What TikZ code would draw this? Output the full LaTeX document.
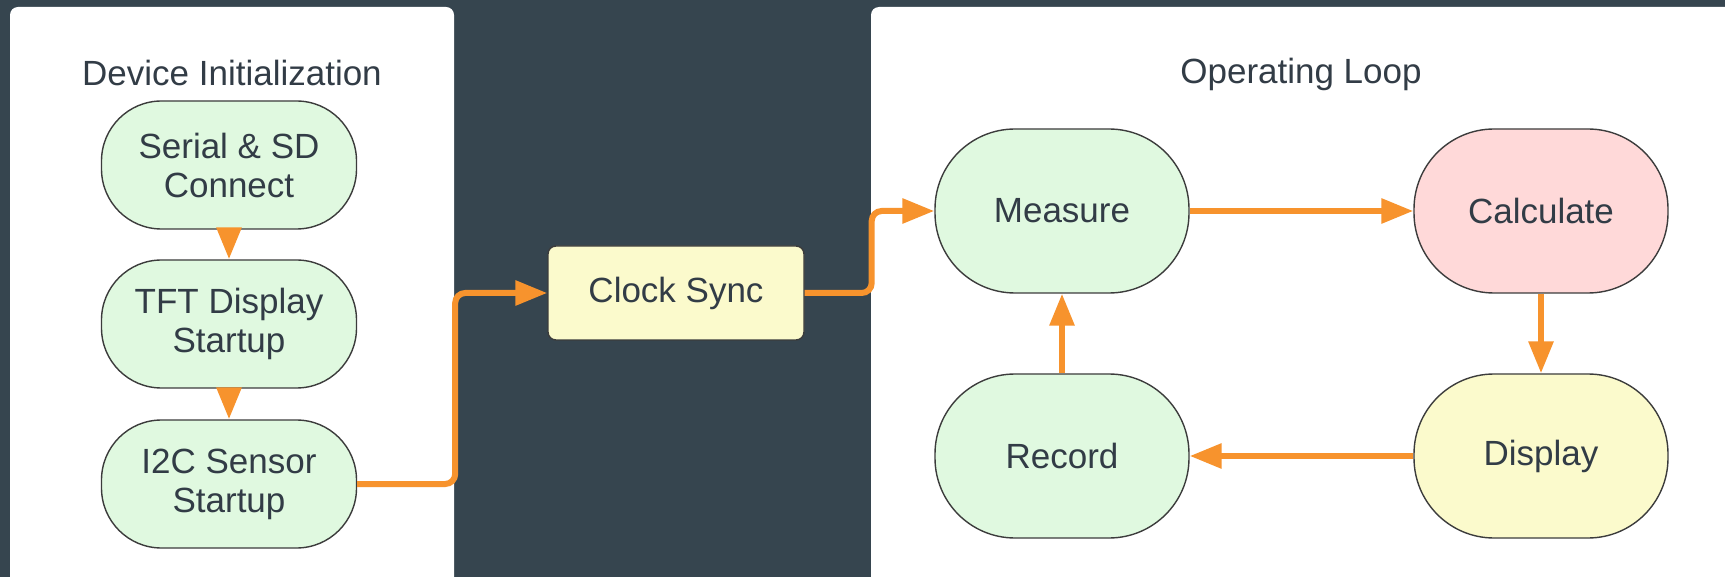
\documentclass[tikz,border=0pt]{standalone}
\usepackage{fontspec}
\setmainfont{Liberation Sans}
\usetikzlibrary{arrows.meta}

\definecolor{slatebg}{RGB}{54,69,79}
\definecolor{inktext}{RGB}{50,60,70}
\definecolor{mintfill}{RGB}{224,249,224}
\definecolor{rosefill}{RGB}{255,217,217}
\definecolor{lemonfill}{RGB}{251,250,204}
\definecolor{flowline}{RGB}{247,147,45}
\definecolor{edgegray}{RGB}{60,60,60}

\tikzset{
  labelfont/.style={text=inktext, font=\fontsize{17.5}{19.5}\selectfont},
  initstate/.style={labelfont, draw=edgegray, line width=0.7pt, fill=mintfill,
    rounded corners=30pt, minimum width=127.5pt, minimum height=64pt,
    align=center, inner sep=0pt},
  loopstate/.style={labelfont, draw=edgegray, line width=0.7pt,
    rounded corners=40pt, minimum width=127pt, minimum height=82pt, inner sep=0pt},
  syncbox/.style={labelfont, draw=edgegray, line width=0.7pt, fill=lemonfill,
    rounded corners=4pt, minimum width=128pt, minimum height=47pt, inner sep=0pt},
  flow/.style={draw=flowline, line width=3pt, rounded corners=5pt,
    -{Triangle[length=16pt,width=12pt]}},
  panel/.style={fill=white, rounded corners=4pt}
}

\begin{document}
\begin{tikzpicture}[x=0.5pt, y=-0.5pt]
  \useasboundingbox (0,0) rectangle (1725,577);
  \clip (0,0) rectangle (1725,577);
  \fill[slatebg] (0,0) rectangle (1725,577);

  % panels
  \fill[panel] (10,7) rectangle (454,600);
  \fill[panel] (871,7) rectangle (1760,600);
  \node[labelfont] (inittitle) at (232,73) {Device Initialization};
  \node[labelfont] (looptitle) at (1301,74) {Operating Loop};

  % device initialization
  \node[initstate] (serial) at (229,165) {Serial \& SD\\Connect};
  \node[initstate] (tft) at (229,324) {TFT Display\\Startup};
  \node[initstate] (sensor) at (229,484) {I2C Sensor\\Startup};

  \node[syncbox] (clock) at (676,293) {Clock Sync};

  % operating loop
  \node[loopstate, fill=mintfill] (measure) at (1062,211) {Measure};
  \node[loopstate, fill=rosefill] (calculate) at (1541,211) {Calculate};
  \node[loopstate, fill=lemonfill] (display) at (1541,456) {Display};
  \node[loopstate, fill=mintfill] (record) at (1062,456) {Record};

  \draw[flow] (serial) -- (tft);
  \draw[flow] (tft) -- (sensor);
  \draw[flow] (sensor.east) -- ++(98,0) |- (clock.west);
  \draw[flow] (clock.east) -- ++(67,0) |- (measure.west);
  \draw[flow] (measure) -- (calculate);
  \draw[flow] (calculate) -- (display);
  \draw[flow] (display) -- (record);
  \draw[flow] (record) -- (measure);
\end{tikzpicture}
\end{document}
